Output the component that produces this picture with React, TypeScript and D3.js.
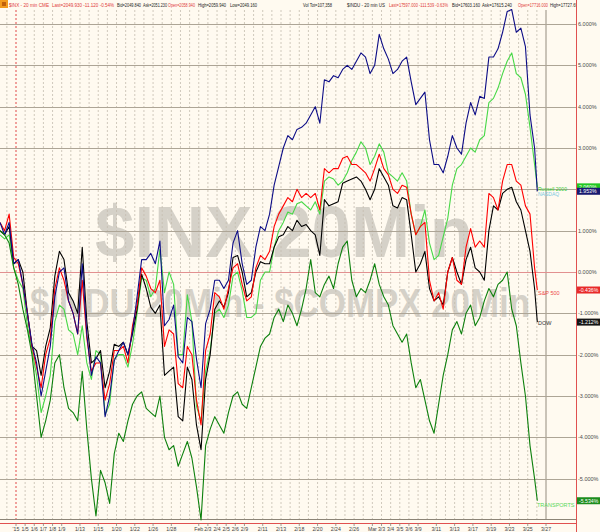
import React from "react";
import * as d3 from "d3";

const W = 600;
const H = 532;

// trading-day index (0 = Jan 2) of each x-axis label
const TICK_DAYS = [0, 1, 2, 3, 4, 5, 7, 9, 11, 13, 15, 17, 20, 21, 22, 23, 24, 25, 27, 29, 31, 33, 35, 37, 39, 40, 41, 42, 43, 44, 46, 48, 50, 52, 54, 56, 58];
const TICK_LABELS = ["'15", "1/5", "1/6", "1/7", "1/8", "1/9", "1/13", "1/15", "1/20", "1/22", "1/26", "1/28", "Feb", "2/3", "2/4", "2/5", "2/6", "2/9", "2/11", "2/13", "2/18", "2/20", "2/24", "2/26", "Mar", "3/3", "3/4", "3/5", "3/6", "3/9", "3/11", "3/13", "3/17", "3/19", "3/23", "3/25", "3/27"];
const Y_TICKS = [6, 5, 4, 3, 2, 1, 0, -1, -2, -3, -4, -5];

// % change, two readings per trading day (Dec 30 .. Mar 26)
const SP500 = [1.2, 1.0, 1.4, 0.35,
  0.2, -0.3, -1.0, -1.8, -2.3, -2.8, -2.0, -1.6, -0.4, 0.1, -0.2, -0.7, -1.0, -1.5, -0.2, -1.6,
  -2.4, -2.2, -2.2, -3.1, -2.7, -1.9, -1.9, -1.8, -2.2, -1.3, -0.8, 0.1, -0.1, -0.4, -0.5, -0.2,
  -1.8, -1.4, -1.5, -2.7, -2.8, -1.8, -2.0, -3.1, -3.7, -1.9, -1.5, -0.5, -0.6, -0.9, -0.4, 0.1,
  0.2, -0.3, -0.7, -0.6, 0.1, 0.4, 0.3, 0.5, 1.1, 1.4, 1.6, 1.8, 1.7, 2.0, 1.8, 1.9, 1.8, 1.9,
  1.5, 2.5, 2.4, 2.5, 2.5, 2.75, 2.8, 2.6, 2.6, 2.5, 2.4, 2.2, 2.5, 2.85, 2.5, 2.35, 2.0, 1.9,
  2.1, 2.05, 1.4, 0.9, 1.1, 1.2, -0.2, -0.7, -0.5, -0.9, 0.0, 0.35, -0.2, -0.3, 0.6, 1.05,
  0.6, 0.75, 0.6, 1.9, 1.8, 1.5, 2.2, 2.6, 2.6, 2.2, 2.1, 1.6, 1.4, 0.1, -0.436];

const DOW = [1.0, 0.9, 1.1, 0.2,
  0.3, 0.0, -1.0, -1.8, -1.9, -2.5, -1.8, -1.35, -0.1, 0.5, 0.3, -0.5, -0.7, -1.0, 0.6, -1.2,
  -2.2, -2.1, -1.9, -2.8, -2.4, -1.75, -1.8, -1.7, -2.0, -1.5, -0.9, -0.05, -0.4, -0.85, -1.0, -0.8,
  -2.5, -2.4, -2.3, -3.5, -3.6, -2.3, -2.6, -3.7, -4.3, -2.6, -2.0, -0.9, -0.7, -0.85, -0.5, 0.35,
  0.4, 0.0, -0.6, -0.5, 0.0, 0.25, 0.2, 0.2, 0.6, 0.85, 0.9, 1.1, 1.0, 1.25, 1.1, 1.15, 1.0, 0.9,
  0.4, 1.75, 1.6, 1.65, 1.7, 2.15, 2.2, 2.25, 2.3, 2.2, 2.0, 1.75, 2.0, 2.5, 2.3, 2.1, 1.6, 1.55,
  1.8, 1.75, 0.9, 0.0, 0.2, 0.5, -0.4, -0.7, -0.6, -0.8, 0.0, 0.35, 0.0, -0.3, 0.3, 0.6,
  0.1, 0.0, -0.2, 1.0, 1.6, 1.5, 1.9, 2.0, 2.05, 1.7, 1.5, 1.0, 0.5, -0.4, -1.212];

const NASDAQ = [1.2, 0.9, 1.2, 0.2,
  0.3, -0.3, -1.0, -1.75, -2.2, -3.0, -2.4, -1.8, -0.6, 0.0, 0.1, -0.7, -1.0, -1.5, 0.2, -1.5,
  -2.5, -2.05, -2.2, -3.5, -3.0, -2.15, -1.9, -1.7, -2.0, -1.45, -0.6, 0.3, 0.3, 0.45, 0.2, 0.75,
  -1.3, -1.15, -0.8, -2.05, -2.2, -1.1, -1.2, -2.1, -2.8, -1.25, -0.9, -0.2, -0.2, -0.4, -0.2, 0.7,
  1.0, 0.2, -0.3, -0.2, 0.6, 1.1, 1.0, 1.4, 2.1, 2.55, 3.0, 3.3, 3.2, 3.45, 3.5, 3.6, 3.8, 4.0,
  3.6, 4.65, 4.6, 4.75, 4.7, 4.9, 5.0, 4.9, 5.1, 5.3, 5.2, 4.8, 5.0, 5.75, 5.4, 5.15, 4.8, 4.9,
  5.1, 5.2, 4.6, 4.05, 4.2, 4.35, 3.2, 2.6, 2.6, 2.4, 2.8, 3.3, 3.0, 2.85, 3.6, 4.1,
  3.8, 4.25, 4.2, 5.2, 5.2, 5.4, 5.8, 6.3, 6.35, 5.8, 5.9, 5.45, 3.8, 3.0, 1.953];

const RUSSELL = [0.9, 0.8, 0.9, 0.1,
  -0.2, -0.4, -1.3, -1.9, -2.5, -3.4, -3.0, -2.5, -1.2, -0.8, -0.9, -1.4, -1.5, -2.0, -1.3, -2.2,
  -2.6, -1.9, -2.0, -3.45, -3.2, -2.1, -2.0, -2.0, -2.3, -1.75, -1.0, -0.15, -0.2, -0.6, -0.4, 0.55,
  -0.5, 0.0, -0.3, -2.0, -2.0, -0.55, -1.2, -3.25, -3.6, -2.4, -1.9, -1.0, -0.9, -1.1, -0.8, -0.1,
  0.0, -0.45, -1.1, -1.1, -1.0, -0.2, 0.0, 0.0, 0.6, 1.0, 1.2, 1.45, 1.4, 1.65, 1.7, 1.6, 1.5, 1.7,
  1.4, 2.2, 2.3, 2.25, 2.1, 2.2, 2.4, 2.7, 2.9, 3.15, 3.0, 2.6, 2.8, 3.1, 2.9, 2.4, 2.3, 2.2,
  2.4, 2.2, 1.4, 0.9, 1.1, 1.5, 0.7, 0.3, 0.4, 0.85, 1.3, 2.1, 2.5, 2.6, 2.8, 3.0,
  2.9, 3.2, 3.3, 4.1, 4.2, 4.45, 4.8, 5.1, 5.3, 4.8, 4.7, 4.3, 3.5, 2.6, 2.06];

const TRANSPORTS = [1.0, 0.9, 0.7, 0.1,
  -0.3, -0.9, -1.4, -2.0, -3.0, -4.0, -3.6, -3.1, -2.2, -2.0, -2.8, -3.3, -3.4, -3.6, -2.4, -3.8,
  -5.0, -5.9, -4.8, -5.1, -5.6, -4.4, -3.9, -4.1, -3.6, -3.2, -3.0, -2.9, -3.3, -3.4, -3.5, -3.0,
  -4.0, -4.3, -4.2, -4.7, -4.4, -4.1, -4.5, -5.2, -6.0, -4.2, -3.8, -3.5, -3.7, -3.9, -3.4, -3.0,
  -2.9, -3.2, -3.3, -2.8, -2.3, -1.8, -1.6, -1.5, -1.1, -0.9, -1.2, -0.8, -1.0, -1.3, -0.9, -0.4,
  0.3, -0.5, -0.6, -0.3, -0.1, -0.4, 0.2, 0.6, 0.75, -0.2, -0.6, -0.4, -0.5, -0.2, 0.2, -0.3,
  -0.6, -0.8, -1.3, -1.5, -1.7, -1.5, -2.2, -2.8, -2.6, -3.1, -3.6, -3.9, -3.2, -2.5, -2.0, -1.4,
  -1.2, -1.5, -1.0, -0.8, -1.3, -1.1, -0.7, -0.4, -0.6, -0.3, -0.2, 0.0, -0.9, -1.3, -2.2, -3.0,
  -4.2, -5.0, -5.534];

const HEADER_TEXT = [
  "$INX - 20 min CME", "Last=2049.930 -11.120 -0.54%", "Bid=2049.840", "Ask=2051.230", "Open=2058.940",
  "High=2059.940", "Low=2049.160", "Vol Tot=107,358", "$INDU - 20 min US", "Last=17597.000 -111.539 -0.63%",
  "Bid=17603.160", "Ask=17615.240", "Open=17716.000", "High=17727.690",
];

const FONT = "'Liberation Sans', Arial, sans-serif";

export default function App() {
  const x = d3.scaleLinear().domain([0, 58]).range([16, 546]);
  const y = d3.scaleLinear().domain([0, 6]).range([272, 24]);

  const mkLine = (vals: number[]) => {
    const n = vals.length;
    const t = (i: number) => (i === n - 1 ? 57.05 : -1.75 + 0.5 * i);
    return d3.line<number>().x((_, i) => x(t(i))).y((v) => y(v))(vals) || "";
  };

  const series = [
    { name: "Russell 2000", vals: RUSSELL, color: "#46d846" },
    { name: "DOW", vals: DOW, color: "#000000" },
    { name: "S&P 500", vals: SP500, color: "#ff0000" },
    { name: "NASDAQ", vals: NASDAQ, color: "#0c0c86" },
    { name: "TRANSPORTS", vals: TRANSPORTS, color: "#0d800d" },
  ];

  // header layout
  const hdrX = [9, 52, 117, 143, 168, 198, 230, 303, 347, 389, 452, 482, 518, 550];
  const hdrLen = [40, 62, 24, 24, 27, 28, 27, 29, 38, 59, 28, 30, 30, 30];
  const hdrCol = ["#e03a3a", "#e03a3a", "#222", "#222", "#e03a3a", "#222", "#222", "#222", "#222", "#e03a3a", "#222", "#222", "#e03a3a", "#222"];

  const days = d3.range(-1, 58);

  const last = (a: number[]) => a[a.length - 1];
  const boxes = [
    { v: last(RUSSELL), txt: last(RUSSELL).toFixed(3) + "%", fill: "#22c822" },
    { v: last(NASDAQ), txt: last(NASDAQ).toFixed(3) + "%", fill: "#1a1a70" },
    { v: last(SP500), txt: last(SP500).toFixed(3) + "%", fill: "#e82a2a" },
    { v: last(DOW), txt: last(DOW).toFixed(3) + "%", fill: "#151515" },
    { v: last(TRANSPORTS), txt: last(TRANSPORTS).toFixed(3) + "%", fill: "#1d8c1d" },
  ];

  return (
    <svg width={W} height={H} style={{ position: "absolute", left: 0, top: 0, display: "block" }} fontFamily={FONT}>
      <defs>
        <clipPath id="hdrclip">
          <rect x={0} y={0} width={576} height={10} />
        </clipPath>
      </defs>
      <rect x={0} y={0} width={W} height={H} fill="#fffaf0" />

      {/* watermarks */}
      <text x={95} y={257} fontSize={72} fontWeight="bold" fill="#d5d1c8" textLength={378} lengthAdjust="spacingAndGlyphs">$INX 20Min</text>
      <text x={30} y={317} fontSize={40} fontWeight="bold" fill="#d5d1c8" textLength={500} lengthAdjust="spacingAndGlyphs">$INDU 20Min - $COMPX 20Min</text>

      {/* day gridlines */}
      {days.map((d) => (
        <line key={"d" + d} x1={x(d)} x2={x(d)} y1={10} y2={519} stroke={d === 0 ? "#e04848" : "#c4bcae"} strokeWidth={d === 0 ? 1 : 0.8} strokeDasharray="2,2" />
      ))}
      <line x1={x(58)} x2={x(58)} y1={10} y2={519} stroke="#948c7e" strokeWidth={1} />

      {/* horizontal gridlines */}
      {Y_TICKS.map((v) => (
        <g key={"h" + v}>
          <line x1={0} x2={577} y1={Math.round(y(v)) + 0.5} y2={Math.round(y(v)) + 0.5} stroke={v === 0 ? "#e29090" : "#ada596"} strokeWidth={1} />
          <text x={578} y={y(v) + 2} fontSize={5.5} fill="#4a4a4a">{v.toFixed(3) + "%"}</text>
        </g>
      ))}

      {/* bottom lines */}
      <line x1={0} x2={577} y1={519.5} y2={519.5} stroke="#8c8476" strokeWidth={1} />
      <line x1={0} x2={577} y1={523.5} y2={523.5} stroke="#e05050" strokeWidth={1} />
      <line x1={576.5} x2={576.5} y1={0} y2={H} stroke="#e05050" strokeWidth={1} />

      {/* x ticks & labels */}
      {TICK_DAYS.map((d, i) => (
        <g key={"t" + d}>
          <line x1={x(d)} x2={x(d)} y1={523} y2={526} stroke="#8c8476" strokeWidth={0.8} />
          <text x={x(d)} y={530.5} fontSize={5.2} textAnchor="middle" fill="#444">{TICK_LABELS[i]}</text>
        </g>
      ))}

      {/* series */}
      {series.map((s) => (
        <path key={s.name} d={mkLine(s.vals)} fill="none" stroke={s.color} strokeWidth={1.1} strokeLinejoin="round" />
      ))}

      {/* end labels */}
      <text x={538} y={190.5} fontSize={5} fill="#33c833">Russell 2000</text>
      <text x={538} y={196} fontSize={5} fill="#78c8e0">NASDAQ</text>
      <text x={538} y={294.5} fontSize={5.5} fill="#ee4848">S&amp;P 500</text>
      <text x={538} y={325} fontSize={5.5} fill="#333">DOW</text>
      <text x={537} y={507} fontSize={5.5} fill="#5ad85a">TRANSPORTS</text>

      {/* value boxes */}
      {boxes.map((b, i) => (
        <g key={"b" + i}>
          <rect x={577} y={y(b.v) - 3.5} width={23} height={7} fill={b.fill} />
          <text x={579} y={y(b.v) + 2} fontSize={5.2} fill="#ffffff">{b.txt}</text>
        </g>
      ))}

      {/* header */}
      <rect x={0} y={0} width={8} height={8} fill="#f29a1c" />
      <rect x={2} y={2} width={4} height={4} fill="#c0600a" />
      <g clipPath="url(#hdrclip)">
        {HEADER_TEXT.map((t, i) => (
          <text key={"hd" + i} x={hdrX[i]} y={7} fontSize={5} fill={hdrCol[i]} textLength={hdrLen[i]} lengthAdjust="spacingAndGlyphs">{t}</text>
        ))}
      </g>
    </svg>
  );
}
